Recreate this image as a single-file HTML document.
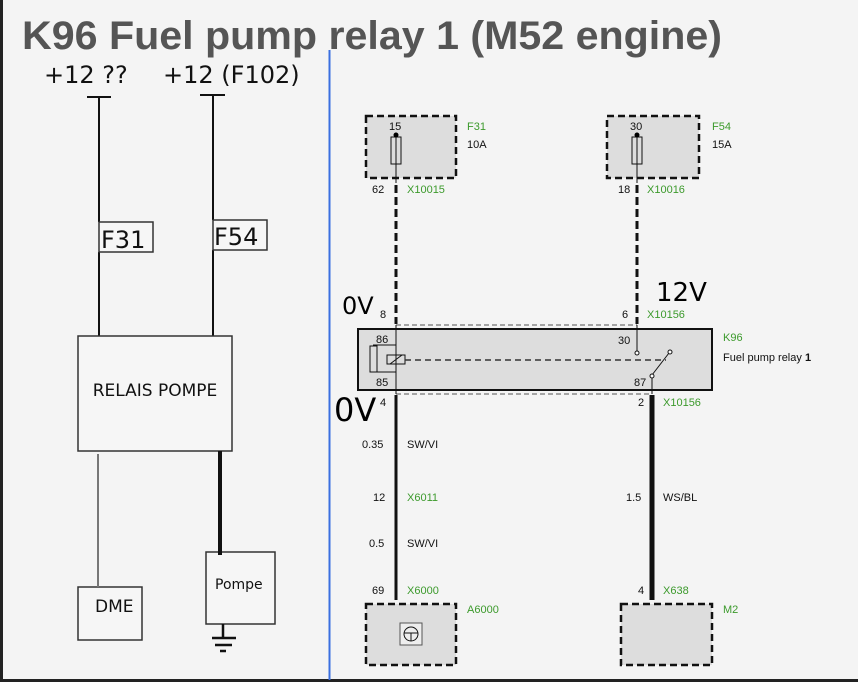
<!DOCTYPE html>
<html><head><meta charset="utf-8"><style>
html,body{margin:0;padding:0;background:#f4f4f4;}
svg{display:block;font-family:"Liberation Sans",sans-serif;}
.g{fill:#3c9a2c;font-size:11px;}
.s{fill:#111;font-size:11px;}
</style></head><body>
<svg width="858" height="682" viewBox="0 0 858 682" xmlns="http://www.w3.org/2000/svg">
<rect width="858" height="682" fill="#f4f4f4"/>
<rect x="0" y="0" width="3" height="682" fill="#222"/>
<rect x="0" y="679" width="858" height="3" fill="#222"/>
<line x1="329.5" y1="50" x2="329.5" y2="680" stroke="#3a6fe0" stroke-width="2"/>
<text x="22" y="49" font-size="40" font-weight="bold" fill="#555" textLength="700" lengthAdjust="spacingAndGlyphs">K96 Fuel pump relay 1 (M52 engine)</text>
<g font-family="DejaVu Sans, sans-serif" fill="#111">
<text x="44" y="83" font-size="24">+12 ??</text>
<text x="163" y="83" font-size="24">+12 (F102)</text>
</g>
<g stroke="#111" stroke-width="2" fill="none">
<line x1="87" y1="97" x2="111" y2="97"/><line x1="99" y1="97" x2="99" y2="222"/>
<line x1="200" y1="95" x2="225" y2="95"/><line x1="213" y1="95" x2="213" y2="220"/>
<line x1="99" y1="252" x2="99" y2="336"/><line x1="213" y1="250" x2="213" y2="336"/>
</g>
<g stroke="#333" stroke-width="1.5" fill="#f6f6f6">
<rect x="99" y="222" width="54" height="30"/><rect x="213" y="220" width="54" height="30"/>
<rect x="78" y="336" width="154" height="115"/>
<rect x="78" y="587" width="64" height="53"/>
<rect x="206" y="552" width="69" height="72"/>
</g>
<g font-family="DejaVu Sans, sans-serif" fill="#111">
<text x="101" y="248" font-size="24">F31</text>
<text x="214" y="245" font-size="24">F54</text>
<text x="155" y="396" font-size="17" text-anchor="middle">RELAIS POMPE</text>
<text x="95" y="612" font-size="17">DME</text>
<text x="215" y="589" font-size="14">Pompe</text>
</g>
<line x1="98" y1="454" x2="98" y2="587" stroke="#444" stroke-width="2"/>
<line x1="98" y1="454" x2="98" y2="587" stroke="#eee" stroke-width="0.6"/>
<line x1="220" y1="451" x2="220" y2="555" stroke="#111" stroke-width="4"/>
<g stroke="#111" stroke-width="2.5">
<line x1="223" y1="624" x2="223" y2="638"/><line x1="212" y1="638" x2="236" y2="638"/>
<line x1="215" y1="645" x2="232" y2="645"/><line x1="220" y1="651" x2="226" y2="651"/>
</g>
<!-- right diagram -->
<g fill="#ddd" stroke="#111" stroke-width="2.5" stroke-dasharray="7,4">
<rect x="366" y="116" width="90" height="62"/>
<rect x="607" y="116" width="92" height="62"/>
<rect x="366" y="604" width="90" height="61"/>
<rect x="621" y="604" width="91" height="61"/>
</g>
<g stroke="#111" stroke-width="1" fill="none">
<rect x="391" y="137" width="10" height="27"/><rect x="632" y="137" width="10" height="27"/>
<line x1="396" y1="135" x2="396" y2="183"/><line x1="637" y1="135" x2="637" y2="183"/>
</g>
<circle cx="396" cy="135" r="2.5"/><circle cx="637" cy="135" r="2.5"/>
<g stroke="#111" stroke-width="3" stroke-dasharray="8,4">
<line x1="396" y1="185" x2="396" y2="324"/><line x1="637" y1="185" x2="637" y2="324"/>
</g>
<g stroke="#555" stroke-width="1" stroke-dasharray="5,3">
<line x1="396" y1="325" x2="637" y2="325"/><line x1="396" y1="394" x2="652" y2="394"/>
</g>
<rect x="358" y="329" width="354" height="61" fill="#ddd" stroke="#111" stroke-width="2"/>
<g stroke="#111" stroke-width="1" fill="none">
<line x1="396" y1="325" x2="396" y2="394"/>
<rect x="370" y="346" width="7" height="26"/>
<line x1="373" y1="345" x2="396" y2="345"/><line x1="373" y1="372" x2="396" y2="372"/>
<rect x="387" y="355" width="18" height="9"/><line x1="390" y1="364" x2="402" y2="355"/>
<line x1="637" y1="325" x2="637" y2="351"/>
<circle cx="637" cy="353" r="2" fill="#fff"/>
<line x1="652" y1="375" x2="669" y2="353"/>
<circle cx="652" cy="376" r="2" fill="#fff"/><circle cx="670" cy="352" r="2" fill="#fff"/>
<line x1="652" y1="378" x2="652" y2="394"/>
</g>
<line x1="405" y1="360" x2="666" y2="360" stroke="#333" stroke-width="1.5" stroke-dasharray="6,4"/>
<line x1="396" y1="395" x2="396" y2="600" stroke="#111" stroke-width="3"/>
<line x1="652" y1="395" x2="652" y2="600" stroke="#111" stroke-width="5"/>
<rect x="400" y="623" width="22" height="22" fill="#eee" stroke="#555"/>
<circle cx="411" cy="634" r="7" fill="none" stroke="#111"/>
<line x1="404" y1="633" x2="418" y2="633" stroke="#111"/><line x1="411" y1="633" x2="411" y2="641" stroke="#111"/>
<text class="s" x="389" y="130">15</text><text class="g" x="467" y="130">F31</text><text class="s" x="467" y="148">10A</text>
<text class="s" x="630" y="130">30</text><text class="g" x="712" y="130">F54</text><text class="s" x="712" y="148">15A</text>
<text class="s" x="372" y="193">62</text><text class="g" x="407" y="193">X10015</text>
<text class="s" x="618" y="193">18</text><text class="g" x="647" y="193">X10016</text>
<text x="342" y="314" font-size="24" font-family="DejaVu Sans, sans-serif">0V</text><text class="s" x="380" y="318">8</text>
<text x="656" y="301" font-size="26" font-family="DejaVu Sans, sans-serif">12V</text>
<text class="s" x="622" y="318">6</text><text class="g" x="647" y="318">X10156</text>
<text class="s" x="376" y="343">86</text><text class="s" x="376" y="386">85</text>
<text class="s" x="618" y="344">30</text><text class="s" x="634" y="386">87</text>
<text class="g" x="723" y="341">K96</text><text class="s" x="723" y="361">Fuel pump relay <tspan font-weight="bold">1</tspan></text>
<text x="334" y="421" font-size="32" font-family="DejaVu Sans, sans-serif">0V</text><text class="s" x="380" y="406">4</text>
<text class="s" x="638" y="406">2</text><text class="g" x="663" y="406">X10156</text>
<text class="s" x="362" y="448">0.35</text><text class="s" x="407" y="448">SW/VI</text>
<text class="s" x="373" y="501">12</text><text class="g" x="407" y="501">X6011</text>
<text class="s" x="369" y="547">0.5</text><text class="s" x="407" y="547">SW/VI</text>
<text class="s" x="372" y="594">69</text><text class="g" x="407" y="594">X6000</text>
<text class="s" x="626" y="501">1.5</text><text class="s" x="663" y="501">WS/BL</text>
<text class="s" x="638" y="594">4</text><text class="g" x="663" y="594">X638</text>
<text class="g" x="467" y="613">A6000</text><text class="g" x="723" y="613">M2</text>
</svg>
</body></html>
